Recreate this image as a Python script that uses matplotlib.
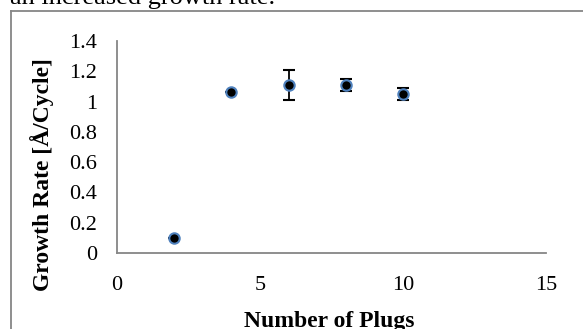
import matplotlib
matplotlib.use("Agg")
import matplotlib.pyplot as plt
from matplotlib.lines import Line2D

# данные
plugs = [2, 4, 6, 8, 10]
rate = [0.10, 1.065, 1.11, 1.11, 1.05]
rate_err = [0.0, 0.0, 0.10, 0.04, 0.04]
xticks = [0, 5, 10, 15]
yticks = [0, 0.2, 0.4, 0.6, 0.8, 1, 1.2, 1.4]

W, H = 583, 329
plt.rcParams['font.family'] = ['Liberation Serif', 'DejaVu Serif']

fig = plt.figure(figsize=(W / 100, H / 100), dpi=100)

# оси в пикселях: x от 117 до 546, y от 41 до 253
ax = fig.add_axes([117 / W, (H - 253) / H, (546 - 117) / W, (253 - 41) / H])
ax.errorbar(plugs, rate, yerr=rate_err, fmt='o', color='black', ecolor='black',
            elinewidth=1.3, capsize=4.3, capthick=1.3,
            markersize=7.5, markerfacecolor='black', markeredgecolor='#4F81BD',
            markeredgewidth=1.5, zorder=3)

ax.set_xlim(0, 15)
ax.set_ylim(0, 1.4)
ax.set_xticks(xticks)
ax.set_yticks(yticks)
ax.set_xticklabels([str(t) for t in xticks])
ax.set_yticklabels(['0', '0.2', '0.4', '0.6', '0.8', '1', '1.2', '1.4'])
ax.tick_params(length=0, labelsize=16)
ax.tick_params(axis='y', pad=14.4)
ax.tick_params(axis='x', pad=16.5)
for s in ['top', 'right']:
    ax.spines[s].set_visible(False)
for s in ['left', 'bottom']:
    ax.spines[s].set_color('#868686')
    ax.spines[s].set_linewidth(1.3)

fig.text(0.5 * (117 + 546) / W - 2 / W, 1 - 327 / H, 'Number of Plugs', fontsize=17,
         fontweight='bold', ha='center', va='baseline')
fig.text(42 / W, 1 - 175 / H, 'Growth Rate [Å/Cycle]', fontsize=17,
         fontweight='bold', ha='center', va='center', rotation=90)

# кусок текста документа сверху и рамка
fig.text(10 / W, 1 - 4 / H, 'an increased growth rate.', fontsize=19,
         ha='left', va='baseline')
fig.add_artist(Line2D([10.5 / W, 10.5 / W], [0, 1 - 10.5 / H], color='#868686', lw=1.3))
fig.add_artist(Line2D([10.5 / W, 1], [1 - 10.5 / H, 1 - 10.5 / H], color='#868686', lw=1.3))

fig.savefig('out.png', dpi=100)
